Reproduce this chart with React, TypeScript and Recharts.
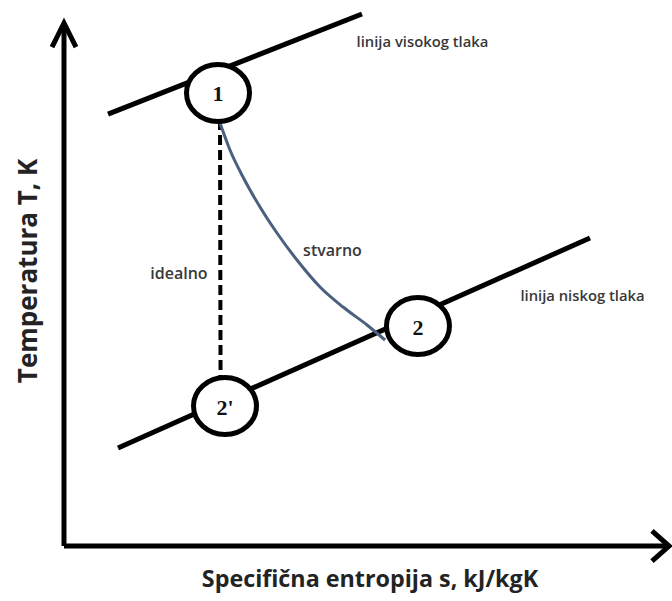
import React from 'react';
import { ComposedChart, Line, Scatter, XAxis, YAxis } from 'recharts';

// Chart units: s (entropy, arbitrary units), T (temperature, arbitrary units)
const S_DOMAIN: [number, number] = [-1.0526, 10];
const T_DOMAIN: [number, number] = [-1.0073, 10];

const yAxisLine = [{ s: 0, T: 0 }, { s: 0, T: 9.56 }];
const yArrow = [{ s: -0.197, T: 9.139 }, { s: 0, T: 9.579 }, { s: 0.197, T: 9.139 }];
const xAxisLine = [{ s: 0, T: 0 }, { s: 9.93, T: 0 }];
const xArrow = [{ s: 9.671, T: 0.275 }, { s: 9.951, T: 0 }, { s: 9.671, T: -0.275 }];

const highPressure = [{ s: 0.724, T: 7.91 }, { s: 4.901, T: 9.744 }];
const lowPressure = [{ s: 0.888, T: 1.795 }, { s: 8.651, T: 5.641 }];
const ideal = [{ s: 2.566, T: 7.802 }, { s: 2.575, T: 3.04 }];
const actual = [
  { s: 2.549, T: 7.802 },
  { s: 2.73, T: 7.253 },
  { s: 2.944, T: 6.758 },
  { s: 3.224, T: 6.209 },
  { s: 3.503, T: 5.733 },
  { s: 3.832, T: 5.238 },
  { s: 4.211, T: 4.744 },
  { s: 4.589, T: 4.377 },
  { s: 4.984, T: 4.048 },
  { s: 5.28, T: 3.773 },
];

const states = [
  { s: 2.533, T: 8.297, label: '1' },
  { s: 5.822, T: 4.029, label: '2' },
  { s: 2.648, T: 2.564, label: "2'" },
];

const lineNotes = [
  { s: 5.896, T: 9.249, text: 'linija visokog tlaka' },
  { s: 8.528, T: 4.597, text: 'linija niskog tlaka' },
];
const pathNotes = [
  { s: 1.891, T: 5.0, text: 'idealno' },
  { s: 4.416, T: 5.421, text: 'stvarno' },
];

const xTitle = [{ s: 5.033, T: -0.586, text: 'Specifična entropija s, kJ/kgK' }];
const yTitle = [{ s: -0.609, T: 5.037, text: 'Temperatura T, K' }];

const StateShape = (props: any) => {
  const { cx, cy, payload } = props;
  return (
    <g>
      <ellipse cx={cx} cy={cy} rx={31.5} ry={28.5} fill="#ffffff" stroke="#000000" strokeWidth={5} />
      <text
        x={cx}
        y={cy + 1}
        textAnchor="middle"
        dominantBaseline="central"
        fontFamily="'Liberation Serif', 'Times New Roman', serif"
        fontWeight={700}
        fontSize={22}
        fill="#111111"
      >
        {payload.label}
      </text>
    </g>
  );
};

const makeText = (size: number, weight: number, color: string, rotate = false) => (props: any) => {
  const { cx, cy, payload } = props;
  return (
    <text
      x={cx}
      y={cy}
      textAnchor="middle"
      dominantBaseline="central"
      transform={rotate ? `rotate(-90 ${cx} ${cy})` : undefined}
      fontFamily="'Open Sans', sans-serif"
      fontWeight={weight}
      fontSize={size}
      fill={color}
    >
      {payload.text}
    </text>
  );
};

const LineNoteShape = makeText(14.8, 600, '#383838');
const PathNoteShape = makeText(16, 600, '#383838');
const XTitleShape = makeText(23.3, 700, '#232323');
const YTitleShape = makeText(26, 700, '#232323', true);

const lineCommon = {
  dataKey: 'T',
  dot: false,
  activeDot: false,
  isAnimationActive: false,
  legendType: 'none' as const,
};

export default function App() {
  return (
    <div style={{ position: 'absolute', left: 0, top: 0, background: '#ffffff' }}>
      <ComposedChart width={672} height={601} margin={{ top: 0, right: 0, bottom: 0, left: 0 }}>
        <XAxis type="number" dataKey="s" domain={S_DOMAIN} hide />
        <YAxis type="number" dataKey="T" domain={T_DOMAIN} hide />
        <Line {...lineCommon} data={yAxisLine} type="linear" stroke="#000" strokeWidth={5} />
        <Line {...lineCommon} data={yArrow} type="linear" stroke="#000" strokeWidth={5} strokeLinejoin="miter" />
        <Line {...lineCommon} data={xAxisLine} type="linear" stroke="#000" strokeWidth={5} />
        <Line {...lineCommon} data={xArrow} type="linear" stroke="#000" strokeWidth={5} strokeLinejoin="miter" />
        <Line {...lineCommon} data={highPressure} type="linear" stroke="#000" strokeWidth={5} />
        <Line {...lineCommon} data={lowPressure} type="linear" stroke="#000" strokeWidth={5} />
        <Line {...lineCommon} data={ideal} type="linear" stroke="#000" strokeWidth={4} strokeDasharray="10 5" />
        <Line {...lineCommon} data={actual} type="monotone" stroke="#4a607e" strokeWidth={3} />
        <Scatter data={states} dataKey="T" shape={StateShape} isAnimationActive={false} legendType="none" />
        <Scatter data={lineNotes} dataKey="T" shape={LineNoteShape} isAnimationActive={false} legendType="none" />
        <Scatter data={pathNotes} dataKey="T" shape={PathNoteShape} isAnimationActive={false} legendType="none" />
        <Scatter data={xTitle} dataKey="T" shape={XTitleShape} isAnimationActive={false} legendType="none" />
        <Scatter data={yTitle} dataKey="T" shape={YTitleShape} isAnimationActive={false} legendType="none" />
      </ComposedChart>
    </div>
  );
}
